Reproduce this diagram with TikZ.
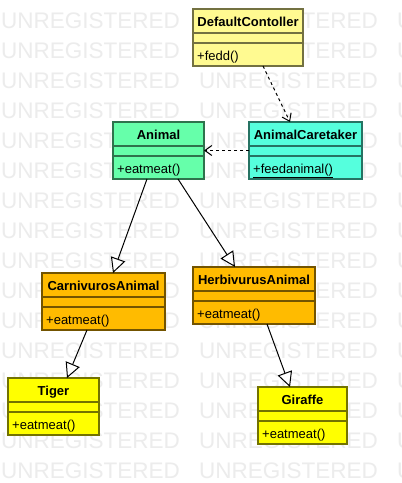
\documentclass[tikz,border=0pt]{standalone}
\usepackage{fontspec}
\setmainfont{Liberation Sans}
\usetikzlibrary{arrows.meta,calc}
\definecolor{cdef}{RGB}{255,250,145}
\definecolor{canimal}{RGB}{102,255,170}
\definecolor{ccare}{RGB}{85,255,221}
\definecolor{corange}{RGB}{255,187,0}
\definecolor{cyel}{RGB}{255,255,0}
\definecolor{wmgray}{RGB}{236,236,236}
\tikzset{
  umlbox/.style={draw=#1!45!black, fill=#1, line width=1.2pt, anchor=north west,
    minimum height=57pt, inner sep=0pt, outer sep=0pt},
  sepline/.style={draw=#1!45!black, line width=1.2pt},
  titletext/.style={font=\fontsize{13}{15}\selectfont\bfseries, inner sep=0pt, anchor=base},
  optext/.style={font=\fontsize{13}{15}\selectfont, inner sep=0pt, anchor=base west},
  dep/.style={dash pattern=on 3pt off 3pt, line width=1pt,
    -{Straight Barb[length=7pt,width=10pt]}},
  gen/.style={line width=1pt, -{Triangle[open,length=15pt,width=15pt,fill=white]}},
  watermark/.style={font=\fontsize{22.5}{22.5}\selectfont, text=wmgray, anchor=base west, inner sep=0pt},
}
% name, x, y, width, colour, title, operation
\newcommand\umlclass[7]{%
  \node[umlbox=#5, minimum width=#4pt] (#1) at (#2,#3) {};
  \draw[sepline=#5] ($(#1.north west)+(0,24)$) -- ($(#1.north east)+(0,24)$);
  \draw[sepline=#5] ($(#1.north west)+(0,34)$) -- ($(#1.north east)+(0,34)$);
  \node[titletext] (#1-title) at ($(#1.north)+(0,17)$) {#6};
  \node[optext] (#1-op) at ($(#1.north west)+(4,51)$) {#7};
}
\begin{document}
\begin{tikzpicture}[x=1pt,y=-1pt]
\fill[white] (0,0) rectangle (402,483);
\useasboundingbox (0,0) rectangle (402,483);
\foreach \r in {0,...,15}{
  \foreach \c in {0,1,2}{
    \node[watermark] (wm-\r-\c) at ({1+198*\c},{28+30*\r}) {UNREGISTERED};
  }
}
\umlclass{default}{193}{9}{110}{cdef}{DefaultContoller}{+fedd()}
\umlclass{animal}{113}{122}{91}{canimal}{Animal}{+eatmeat()}
\umlclass{caretaker}{249}{122}{113}{ccare}{AnimalCaretaker}{\underline{+feedanimal()}}
\umlclass{carn}{42}{273}{123}{corange}{CarnivurosAnimal}{+eatmeat()}
\umlclass{herb}{193}{267}{122}{corange}{HerbivurusAnimal}{+eatmeat()}
\umlclass{tiger}{8}{378}{91}{cyel}{Tiger}{+eatmeat()}
\umlclass{giraffe}{258}{387}{89}{cyel}{Giraffe}{+eatmeat()}
\draw[dep] ($(default.south west)+(70,0)$) -- ($(caretaker.north west)+(41,0)$);
\draw[dep] (caretaker.west) -- (animal.east);
\draw[gen] ($(animal.south west)+(34,0)$) -- ($(carn.north west)+(71,0)$);
\draw[gen] ($(animal.south west)+(65,0)$) -- ($(herb.north west)+(42,0)$);
\draw[gen] ($(carn.south west)+(45,0)$) -- ($(tiger.north west)+(59,0)$);
\draw[gen] ($(herb.south west)+(74,0)$) -- ($(giraffe.north west)+(32,0)$);
\end{tikzpicture}
\end{document}
